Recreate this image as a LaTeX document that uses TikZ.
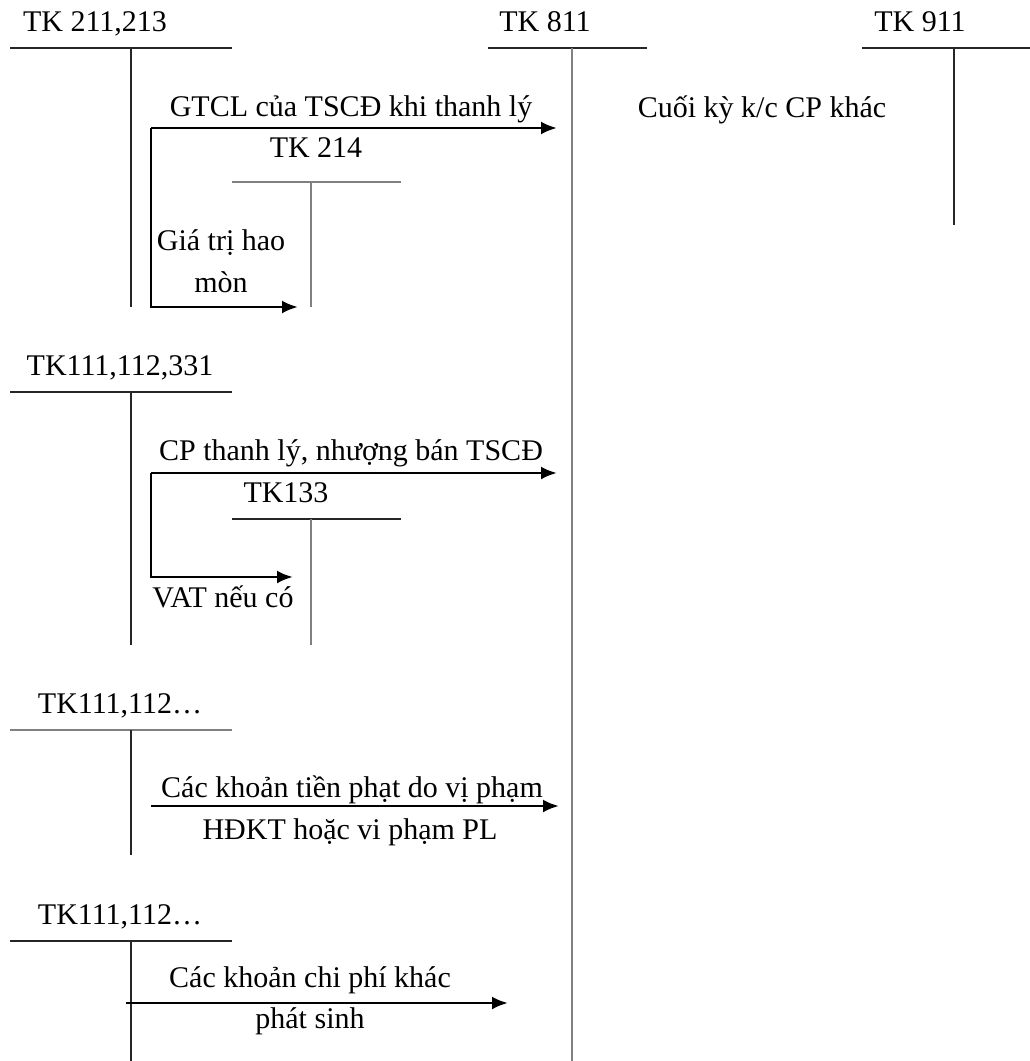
\documentclass[tikz,border=0pt]{standalone}
\usepackage{fontspec}
\setmainfont{Liberation Serif}
\usetikzlibrary{arrows.meta}

\tikzset{
  lbl/.style={font=\fontsize{30}{36}\selectfont, inner sep=0pt, anchor=base},
  tline/.style={line width=1.3pt, black!85},
  flow/.style={line width=2.8pt, -{Latex[length=16pt,width=13pt]}},
}

\begin{document}
\begin{tikzpicture}[x=1pt, y=-1pt]
  \useasboundingbox (0,0) rectangle (1030,1061);

  % T-account headings
  \node[lbl] (tk211) at (95,31) {TK 211,213};
  \node[lbl] (tk811) at (545,31) {TK 811};
  \node[lbl] (tk911) at (920,31) {TK 911};
  \node[lbl] (tk214) at (316,157) {TK 214};
  \node[lbl] (tk111a) at (120,375) {TK111,112,331};
  \node[lbl] (tk133) at (286,502) {TK133};
  \node[lbl] (tk111b) at (120,713) {TK111,112\dots};
  \node[lbl] (tk111c) at (120,924) {TK111,112\dots};

  % T-account lines
  \draw[tline] (10,48) -- (232,48);   \draw[tline] (131,48) -- (131,307);
  \draw[tline] (488,48) -- (647,48);  \draw[tline, gray] (572,48) -- (572,1061);
  \draw[tline] (862,48) -- (1030,48); \draw[tline] (954,48) -- (954,225);
  \draw[tline, gray] (232,182) -- (401,182); \draw[tline, gray] (311,182) -- (311,307);
  \draw[tline] (10,392) -- (232,392); \draw[tline] (131,392) -- (131,645);
  \draw[tline] (232,519) -- (401,519); \draw[tline, gray] (311,519) -- (311,645);
  \draw[tline, gray] (10,730) -- (232,730); \draw[tline] (131,730) -- (131,855);
  \draw[tline] (10,941) -- (232,941); \draw[tline] (131,941) -- (131,1061);

  % flows into TK 811
  \coordinate (s1) at (151,128);
  \coordinate (e1) at (557,128);
  \coordinate (c1) at (151,307);
  \coordinate (d1) at (298,307);
  \draw[flow] (s1) -- (e1);
  \draw[flow] (s1) -- (c1) -- (d1);
  \node[lbl] (gtcl) at (351,116) {GTCL của TSCĐ khi thanh lý};
  \node[lbl] (hao1) at (221,250) {Giá trị hao};
  \node[lbl] (hao2) at (221,292) {mòn};

  \coordinate (s2) at (151,473);
  \coordinate (e2) at (557,473);
  \coordinate (c2) at (151,577);
  \coordinate (d2) at (293,577);
  \draw[flow] (s2) -- (e2);
  \draw[flow] (s2) -- (c2) -- (d2);
  \node[lbl] (cptl) at (351,460) {CP thanh lý, nhượng bán TSCĐ};
  \node[lbl] (vat) at (223,607) {VAT nếu có};

  \coordinate (s3) at (151,806);
  \coordinate (e3) at (559,806);
  \draw[flow] (s3) -- (e3);
  \node[lbl] (phat1) at (352,797) {Các khoản tiền phạt do vị phạm};
  \node[lbl] (phat2) at (350,839) {HĐKT hoặc vi phạm PL};

  \coordinate (s4) at (126,1003);
  \coordinate (e4) at (508,1003);
  \draw[flow] (s4) -- (e4);
  \node[lbl] (khac1) at (310,987) {Các khoản chi phí khác};
  \node[lbl] (khac2) at (310,1028) {phát sinh};

  % closing to TK 911
  \node[lbl] (kc) at (762,117) {Cuối kỳ k/c CP khác};
\end{tikzpicture}
\end{document}
